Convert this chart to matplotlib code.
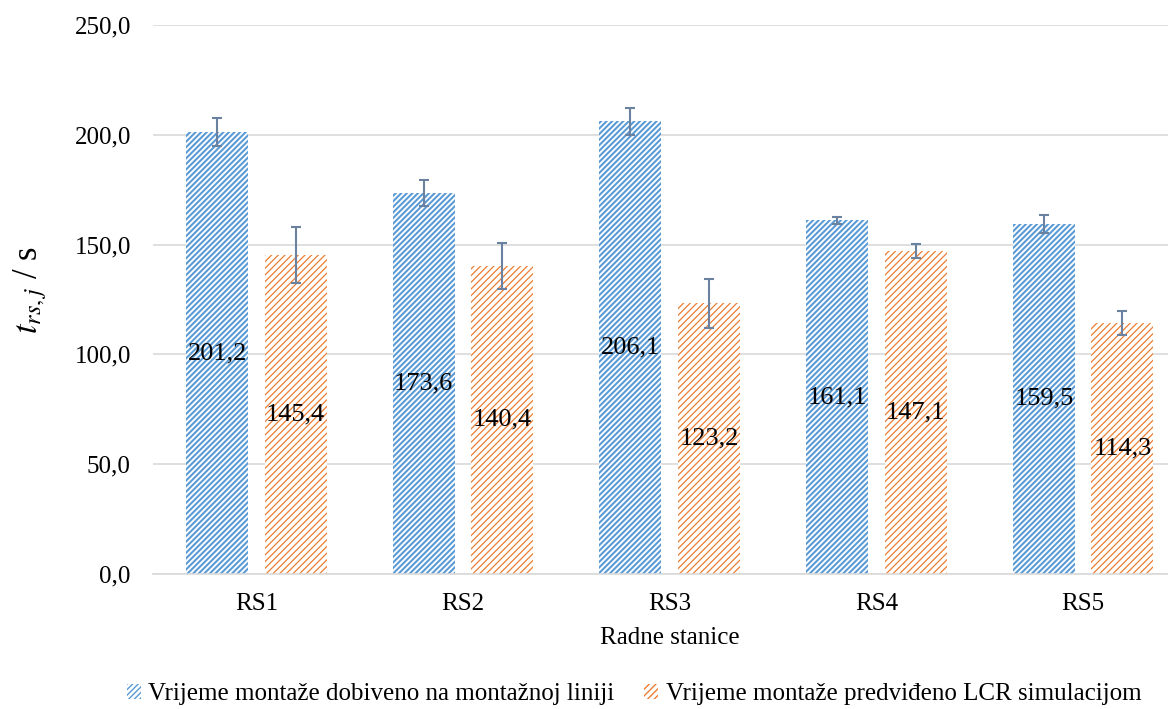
import matplotlib.pyplot as plt
from matplotlib.ticker import FuncFormatter
import numpy as np

stations = ['RS1', 'RS2', 'RS3', 'RS4', 'RS5']
line_times = [201.2, 173.6, 206.1, 161.1, 159.5]
line_err = [6.5, 5.8, 6.0, 1.6, 4.1]
lcr_times = [145.4, 140.4, 123.2, 147.1, 114.3]
lcr_err = [12.8, 10.4, 11.0, 3.0, 5.5]
series_names = ['Vrijeme montaže dobiveno na montažnoj liniji',
                'Vrijeme montaže predviđeno LCR simulacijom']

plt.rcParams['font.family'] = ['Liberation Serif', 'DejaVu Serif']
plt.rcParams['mathtext.fontset'] = 'stix'

blue = '#5B9BD5'
orange = '#ED7D31'
err_color = '#6A819F'

fig = plt.figure(figsize=(11.68, 7.09), dpi=100)
# axes run past the right edge, like the cropped original
ax = fig.add_axes([153 / 1168, 135 / 709, 1033.5 / 1168, 549 / 709])

x = np.arange(len(stations))
w = 0.30
off = 0.19

with plt.rc_context({'hatch.linewidth': 1.5}):
    b1 = ax.bar(x - off, line_times, w, color='white', edgecolor=blue,
                hatch='//////', linewidth=0, label=series_names[0], zorder=2)
with plt.rc_context({'hatch.linewidth': 0.9}):
    b2 = ax.bar(x + off, lcr_times, w, color='white', edgecolor=orange,
                hatch='/////', linewidth=0, label=series_names[1], zorder=2)

ax.errorbar(x - off, line_times, yerr=line_err, fmt='none', ecolor=err_color,
            elinewidth=1.5, capsize=3.5, capthick=1.5, zorder=3)
ax.errorbar(x + off, lcr_times, yerr=lcr_err, fmt='none', ecolor=err_color,
            elinewidth=1.5, capsize=3.5, capthick=1.5, zorder=3)

# value labels in the middle of each bar
for xi, v in zip(x - off, line_times):
    ax.text(xi, v / 2, f'{v:.1f}'.replace('.', ','), ha='center', va='center',
            fontsize=19, zorder=4)
for xi, v in zip(x + off, lcr_times):
    ax.text(xi, v / 2, f'{v:.1f}'.replace('.', ','), ha='center', va='center',
            fontsize=19, zorder=4)

ax.set_xlim(-0.5, 4.5)
ax.set_ylim(0, 250)
ax.set_yticks(np.arange(0, 251, 50))
ax.yaxis.set_major_formatter(FuncFormatter(lambda v, p: f'{v:.1f}'.replace('.', ',')))
ax.set_xticks(x)
ax.set_xticklabels(stations)
ax.tick_params(axis='both', length=0, labelsize=18)
ax.tick_params(axis='x', pad=14)
ax.tick_params(axis='y', pad=16)

ax.grid(axis='y', color='#D9D9D9', linewidth=1.2, zorder=0)
for s in ['top', 'right', 'left']:
    ax.spines[s].set_visible(False)
ax.spines['bottom'].set_color('#D9D9D9')
ax.spines['bottom'].set_linewidth(1.2)

ax.set_xlabel('Radne stanice', fontsize=18, labelpad=8)
fig.text(30 / 1168, 1 - 290 / 709, r'$t_{rs,j}$ / s', rotation=90,
         ha='center', va='center', fontsize=25)

fig.legend(handles=[b1, b2], loc='center', bbox_to_anchor=(634 / 1168, 1 - 694 / 709),
           ncol=2, frameon=False, fontsize=18, handlelength=0.55, handleheight=0.55,
           handletextpad=0.3, columnspacing=1.2)

plt.savefig('out.png', dpi=100)
